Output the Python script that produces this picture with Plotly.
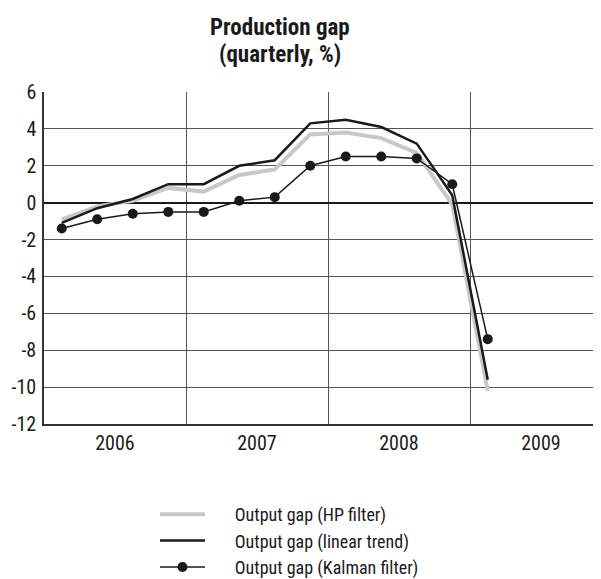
import plotly.graph_objects as go

quarters = [2006.125, 2006.375, 2006.625, 2006.875,
            2007.125, 2007.375, 2007.625, 2007.875,
            2008.125, 2008.375, 2008.625, 2008.875,
            2009.125]
hp_filter = [-0.9, -0.2, 0.1, 0.8, 0.6, 1.5, 1.8, 3.7, 3.8, 3.5, 2.7, -0.1, -10.2]
linear_trend = [-1.1, -0.3, 0.2, 1.0, 1.0, 2.0, 2.3, 4.3, 4.5, 4.1, 3.2, 0.4, -9.6]
kalman_filter = [-1.4, -0.9, -0.6, -0.5, -0.5, 0.1, 0.3, 2.0, 2.5, 2.5, 2.4, 1.0, -7.4]
series_names = ["Output gap (HP filter)", "Output gap (linear trend)",
                "Output gap (Kalman filter)"]
year_labels = ["2006", "2007", "2008", "2009"]
year_centers = [2006.5, 2007.5, 2008.5, 2009.5]
y_ticks = [-12, -10, -8, -6, -4, -2, 0, 2, 4, 6]
y_labels = ["-12", "-10", "-8", "-6", "-4", "-2", "0", "2", "4", "6"]

FONT = "Roboto Condensed"
INK = "#1a1a1a"
PAD = "\u00a0" * 6  # gap between legend sample and legend text

# page body has an 8px margin, so figure coords = window coords - 8
W, H = 593, 571
L, R, T, B = 36, 0, 84, 155
PW, PH = W - L - R, H - T - B

fig = go.Figure()
fig.add_trace(go.Scatter(x=quarters, y=hp_filter, mode="lines",
                         name=PAD + series_names[0],
                         line=dict(color="#c8c8c8", width=4)))
fig.add_trace(go.Scatter(x=quarters, y=linear_trend, mode="lines",
                         name=PAD + series_names[1],
                         line=dict(color=INK, width=2.5)))
fig.add_trace(go.Scatter(x=quarters, y=kalman_filter, mode="lines+markers",
                         name=PAD + series_names[2],
                         line=dict(color=INK, width=1.5),
                         marker=dict(color=INK, size=10)))

for txt, cy in [("<b>Production gap</b>", 19), ("<b>(quarterly, %)</b>", 47)]:
    fig.add_annotation(text=txt, xref="paper", yref="paper",
                       x=(272 - L) / PW, y=(T + PH - cy) / PH,
                       xanchor="center", yanchor="middle", showarrow=False,
                       font=dict(family=FONT, size=23, color=INK))

fig.update_layout(
    width=W, height=H,
    margin=dict(l=L, r=R, t=T, b=B, autoexpand=False),
    paper_bgcolor="white", plot_bgcolor="white",
    font=dict(family=FONT, size=20, color=INK),
    showlegend=True,
    legend=dict(x=(147 - L) / PW, xanchor="left",
                y=-(488 - T - PH) / PH, yanchor="top",
                orientation="v", font=dict(family=FONT, size=18, color=INK),
                bgcolor="rgba(0,0,0,0)", tracegroupgap=0, itemwidth=45),
)

fig.update_xaxes(range=[2006, 2006 + PW / 142],
                 tickmode="array", tickvals=year_centers, ticktext=year_labels,
                 showgrid=False, ticks="", ticklabelstandoff=0, automargin=False,
                 showline=True, linecolor="#333333", linewidth=1.5,
                 minor=dict(tick0=2006, dtick=1, showgrid=True,
                            gridcolor="#555555", gridwidth=1, ticks=""),
                 zeroline=False, fixedrange=True)
fig.update_yaxes(range=[-12, 6], tickmode="array", tickvals=y_ticks, ticktext=y_labels,
                 showgrid=True, gridcolor="#555555", gridwidth=1,
                 zeroline=True, zerolinecolor=INK, zerolinewidth=2,
                 showline=True, linecolor="#333333", linewidth=1.5,
                 ticks="", ticklabelstandoff=2, automargin=False, fixedrange=True)

fig.write_html("out.html")
